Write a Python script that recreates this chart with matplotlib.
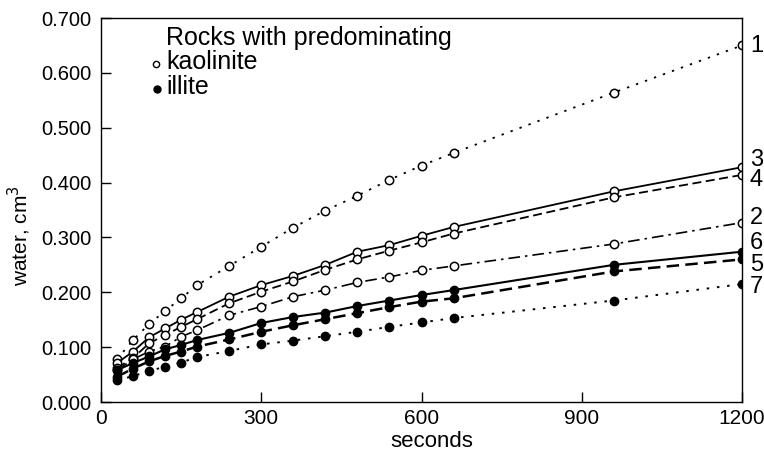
import matplotlib
matplotlib.use("Agg")
import matplotlib.pyplot as plt
from matplotlib.ticker import FixedLocator, FormatStrFormatter

plt.rcParams['font.family'] = ['Liberation Sans Narrow', 'DejaVu Sans Condensed', 'Liberation Sans', 'DejaVu Sans']

# time points (seconds)
t = [30, 60, 90, 120, 150, 180, 240, 300, 360, 420, 480, 540, 600, 660, 960, 1200]

# kaolinite-rich rocks (open circles)
s1 = [0.078, 0.113, 0.142, 0.166, 0.189, 0.213, 0.248, 0.283, 0.318, 0.349, 0.376, 0.405, 0.431, 0.454, 0.564, 0.650]
s3 = [0.071, 0.092, 0.118, 0.134, 0.150, 0.164, 0.192, 0.213, 0.230, 0.250, 0.274, 0.286, 0.303, 0.319, 0.384, 0.428]
s4 = [0.062, 0.080, 0.107, 0.122, 0.137, 0.151, 0.180, 0.201, 0.220, 0.241, 0.260, 0.276, 0.291, 0.307, 0.373, 0.414]
s2 = [0.058, 0.078, 0.092, 0.101, 0.119, 0.131, 0.158, 0.174, 0.192, 0.204, 0.218, 0.228, 0.240, 0.248, 0.288, 0.327]
# illite-rich rocks (filled circles)
s6 = [0.058, 0.071, 0.083, 0.096, 0.104, 0.113, 0.126, 0.144, 0.155, 0.163, 0.175, 0.185, 0.195, 0.204, 0.250, 0.274]
s5 = [0.046, 0.061, 0.074, 0.084, 0.092, 0.101, 0.114, 0.128, 0.140, 0.151, 0.162, 0.173, 0.183, 0.189, 0.238, 0.260]
s7 = [0.040, 0.047, 0.057, 0.064, 0.072, 0.082, 0.093, 0.105, 0.112, 0.120, 0.128, 0.137, 0.145, 0.153, 0.185, 0.215]

curve_labels = ['1', '3', '4', '2', '6', '5', '7']
xticks = [0, 300, 600, 900, 1200]
yticks = [0.0, 0.1, 0.2, 0.3, 0.4, 0.5, 0.6, 0.7]

W, H = 764, 459
fig = plt.figure(figsize=(W / 100, H / 100), dpi=100)
ax = fig.add_axes([101 / W, 1 - 402 / H, 641 / W, 384 / H])

open_kw = dict(marker='o', markersize=6, markerfacecolor='white', markeredgecolor='black',
               markeredgewidth=1.1, color='black')
fill_kw = dict(marker='o', markersize=6, markerfacecolor='black', markeredgecolor='black',
               color='black')

ax.plot(t, s1, linestyle=(0, (1.3, 4.0)), lw=1.3, **open_kw)
ax.plot(t, s3, linestyle='-', lw=1.3, **open_kw)
ax.plot(t, s4, linestyle=(0, (5, 2.5)), lw=1.3, **open_kw)
ax.plot(t, s2, linestyle=(0, (7, 3, 1.5, 3)), lw=1.2, **open_kw)
ax.plot(t, s6, linestyle='-', lw=1.5, **fill_kw)
ax.plot(t, s5, linestyle=(0, (5, 2.5)), lw=1.8, **fill_kw)
ax.plot(t, s7, linestyle=(0, (1.3, 4.0)), lw=1.4, **fill_kw)

ax.set_xlim(0, 1200)
ax.set_ylim(0, 0.7)
ax.xaxis.set_major_locator(FixedLocator(xticks))
ax.yaxis.set_major_locator(FixedLocator(yticks))
ax.yaxis.set_major_formatter(FormatStrFormatter('%.3f'))
ax.tick_params(direction='in', length=7, width=1, labelsize=14.5, top=False, right=False)
ax.tick_params(axis='x', pad=5, labelsize=15)
ax.tick_params(axis='y', pad=7)
for sp in ax.spines.values():
    sp.set_linewidth(1.0)

ax.set_xlabel('seconds', fontsize=16, family=['Liberation Sans', 'DejaVu Sans'])
ax.set_ylabel('water, cm$^3$', fontsize=15, family=['Liberation Sans', 'DejaVu Sans'])
ax.xaxis.set_label_coords(0.516, -0.075)
ax.yaxis.set_label_coords(-0.106, 0.432)

def fx(px):
    return px / W

def fy(py):
    return 1 - py / H

fig.text(fx(166), fy(38), 'Rocks with predominating', fontsize=18,
         family=['Liberation Sans', 'DejaVu Sans'], va='center', ha='left')
fig.text(fx(166), fy(62), 'kaolinite', fontsize=18,
         family=['Liberation Sans', 'DejaVu Sans'], va='center', ha='left')
fig.text(fx(166), fy(87), 'illite', fontsize=18,
         family=['Liberation Sans', 'DejaVu Sans'], va='center', ha='left')
ax.plot([(156 - 101) / 641], [(402 - 64) / 384], transform=ax.transAxes, clip_on=False,
        marker='o', markersize=4.5, markerfacecolor='white', markeredgecolor='black', markeredgewidth=1)
ax.plot([(157 - 101) / 641], [(402 - 89) / 384], transform=ax.transAxes, clip_on=False,
        marker='o', markersize=5, markerfacecolor='black', markeredgecolor='black')

# curve numbers on the right
label_y = [46, 160, 180, 218, 243, 265, 287]
for lab, py in zip(curve_labels, label_y):
    fig.text(fx(750), fy(py), lab, fontsize=17, va='center', ha='left')

fig.savefig('out.png', dpi=100)
